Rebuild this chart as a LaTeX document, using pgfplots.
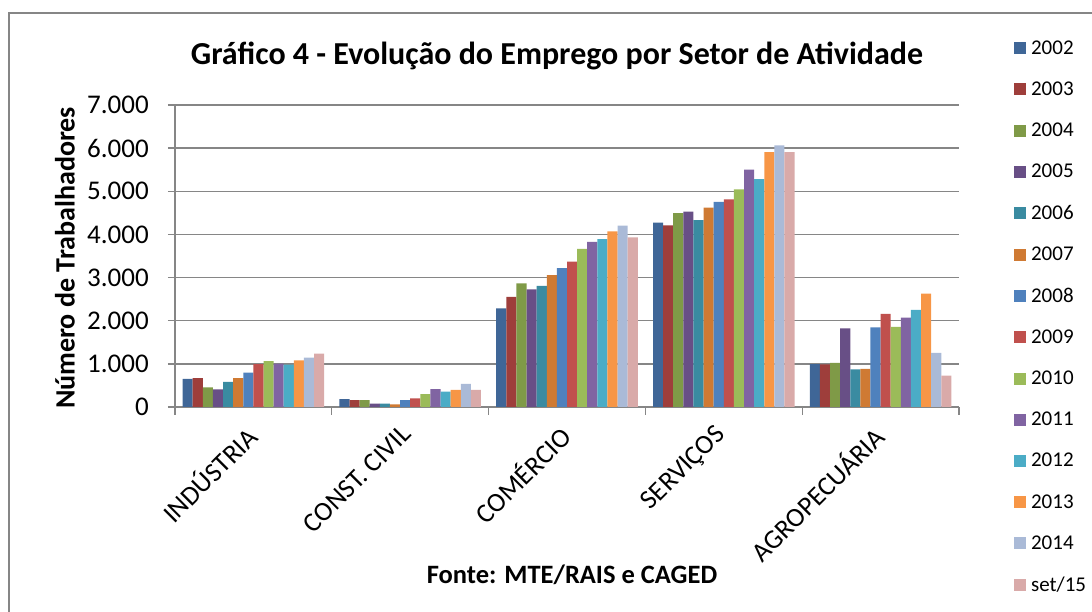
\documentclass[border=0pt]{standalone}
\usepackage{pgfplots}
\pgfplotsset{compat=1.18}
\usepackage{pgfplotstable}
\usepackage{fontspec}
\setmainfont{Carlito}

\definecolor{c02}{HTML}{3F6697}
\definecolor{c03}{HTML}{9E3E3B}
\definecolor{c04}{HTML}{7F9A47}
\definecolor{c05}{HTML}{684F86}
\definecolor{c06}{HTML}{3A8BA1}
\definecolor{c07}{HTML}{CF7A33}
\definecolor{c08}{HTML}{4F81BD}
\definecolor{c09}{HTML}{C0504D}
\definecolor{c10}{HTML}{9BBB59}
\definecolor{c11}{HTML}{8064A2}
\definecolor{c12}{HTML}{4BACC6}
\definecolor{c13}{HTML}{F79646}
\definecolor{c14}{HTML}{AABAD7}
\definecolor{c15}{HTML}{D9AAA9}
\definecolor{axgray}{HTML}{868686}

\pgfplotstableread{
x  a02  a03  a04  a05  a06  a07  a08  a09  a10  a11  a12  a13  a14  s15
0  654  669  457  409  583  669  795  992  1063 1008 984  1079 1142 1236
1  181  157  157  79   79   63   157  197  299  417  354  394  535  394
2  2287 2550 2868 2729 2806 3054 3217 3372 3667 3829 3891 4070 4202 3930
3  4271 4209 4496 4527 4333 4620 4752 4814 5047 5504 5279 5907 6062 5907
4  996  988  1020 1820 871  886  1843 2157 1859 2071 2251 2627 1255 729
}\data

\begin{document}
\begin{tikzpicture}[x=1pt,y=1pt]
\draw[axgray, line width=1.3pt] (9,-20) -- (9,599) -- (1110,599);
\begin{axis}[
  at={(175pt,205pt)}, anchor=south west,
  scale only axis, width=784pt, height=302pt,
  xmin=-0.5, xmax=4.5, ymin=0, ymax=7000,
  ybar=0pt, bar width=0.0645,
  axis x line*=bottom, axis y line*=left,
  axis line style={axgray, line width=1.3pt, -},
  ytick={0,1000,...,7000},
  ymajorgrids, grid style={axgray, line width=1.3pt},
  xtick={0,1,2,3,4},
  xticklabels={INDÚSTRIA, CONST. CIVIL, COMÉRCIO, SERVIÇOS, AGROPECUÁRIA},
  minor xtick={-0.5,0.5,1.5,2.5,3.5,4.5},
  major x tick style={draw=none},
  minor x tick style={axgray, line width=1.3pt},
  y tick style={axgray, line width=1.3pt},
  tick align=outside, major tick length=7pt, minor tick length=8pt,
  /pgf/number format/.cd, 1000 sep={.}, assume math mode=true,
  /pgfplots/.cd,
  yticklabel style={font=\fontsize{27}{32}\selectfont, anchor=east, inner sep=0pt, xshift=-19pt},
  xticklabel style={font=\fontsize{27}{32}\selectfont, xshift=-10pt, yshift=-9pt, rotate=45, anchor=north east, inner sep=0pt},
  legend style={draw=none, fill=none, at={(axis description cs:1.07,1.22)}, anchor=north west,
    font=\fontsize{21}{25}\selectfont, row sep=22pt, inner sep=0pt, cells={anchor=west},
    nodes={inner xsep=5pt}},
  legend image code/.code={\fill[#1,draw=none] (0pt,-6pt) rectangle (12pt,6pt);},
]
\addplot[fill=c02, draw=none] table[x=x,y=a02]{\data};
\addplot[fill=c03, draw=none] table[x=x,y=a03]{\data};
\addplot[fill=c04, draw=none] table[x=x,y=a04]{\data};
\addplot[fill=c05, draw=none] table[x=x,y=a05]{\data};
\addplot[fill=c06, draw=none] table[x=x,y=a06]{\data};
\addplot[fill=c07, draw=none] table[x=x,y=a07]{\data};
\addplot[fill=c08, draw=none] table[x=x,y=a08]{\data};
\addplot[fill=c09, draw=none] table[x=x,y=a09]{\data};
\addplot[fill=c10, draw=none] table[x=x,y=a10]{\data};
\addplot[fill=c11, draw=none] table[x=x,y=a11]{\data};
\addplot[fill=c12, draw=none] table[x=x,y=a12]{\data};
\addplot[fill=c13, draw=none] table[x=x,y=a13]{\data};
\addplot[fill=c14, draw=none] table[x=x,y=a14]{\data};
\addplot[fill=c15, draw=none] table[x=x,y=s15]{\data};
\legend{2002,2003,2004,2005,2006,2007,2008,2009,2010,2011,2012,2013,2014,set/15}
\end{axis}
\node[anchor=base, font=\fontsize{32}{38}\selectfont\bfseries] at (557,547) {Gráfico 4 - Evolução do Emprego por Setor de Atividade};
\node[rotate=90, font=\fontsize{28}{33}\selectfont\bfseries] at (65,354) {Número de Trabalhadores};
\node[anchor=base, font=\fontsize{26.5}{31}\selectfont\bfseries] at (572,28) {Fonte: MTE/RAIS e CAGED};
\pgfresetboundingbox
\path[use as bounding box] (0,0) rectangle (1092,612);
\end{tikzpicture}
\end{document}
